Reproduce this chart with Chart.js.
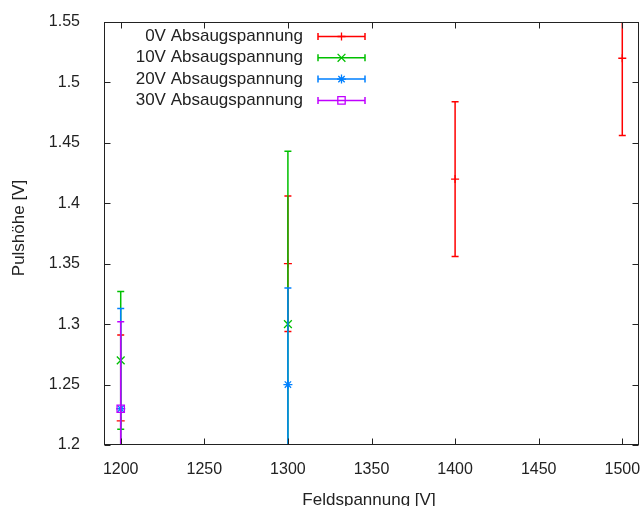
<!DOCTYPE html>
<html>
<head>
<meta charset="utf-8">
<script src="https://cdn.jsdelivr.net/npm/chart.js@4.4.0/dist/chart.umd.min.js"></script>
<style>
  html, body { margin:0; padding:0; background:#fff }
</style>
</head>
<body>
<canvas id="c" width="641" height="506"></canvas>
<script>
// Messpunkte: Feldspannung [V], Pulshöhe [V], Fehler [V]
const feld0  = [1200, 1300, 1400, 1500]
const puls0  = [1.22, 1.35, 1.42, 1.52]
const err0   = [0.071, 0.056, 0.064, 0.064]

const feld10 = [1200, 1300]
const puls10 = [1.27, 1.30]
const err10  = [0.057, 0.143]

const feld20 = [1200, 1300]
const puls20 = [1.23, 1.25]
const err20  = [0.083, 0.08]

const feld30 = [1200]
const puls30 = [1.23]
const err30  = [0.072]

const xTicks = [1200, 1250, 1300, 1350, 1400, 1450, 1500]
const yTicks = [1.2, 1.25, 1.3, 1.35, 1.4, 1.45, 1.5, 1.55]
const names  = ['0V Absaugspannung', '10V Absaugspannung', '20V Absaugspannung', '30V Absaugspannung']

const FONT = '"Liberation Sans", Arial, sans-serif'
const TXT = '#222'

function pts(xs, ys, es){ return xs.map((x,i)=>({ x, y: ys[i], err: es[i] })) }

function series(i, data, color, style, radius, order){
  return { label: names[i], data, borderColor: color, backgroundColor: 'rgba(0,0,0,0)',
    pointStyle: style, pointRadius: radius, pointBorderWidth: 1.3, showLine: false, order }
}

// vertical error bars with caps, drawn right before each dataset's markers
const errorBars = {
  id: 'errorBars',
  beforeDatasetDraw(chart, args){
    const ds = chart.data.datasets[args.index]
    const { ctx, chartArea: a, scales: { x, y } } = chart
    ctx.save()
    ctx.beginPath(); ctx.rect(a.left, a.top, a.right - a.left, a.bottom - a.top); ctx.clip()
    ctx.strokeStyle = ds.borderColor; ctx.lineWidth = 1.5
    ds.data.forEach(p => {
      const px = x.getPixelForValue(p.x)
      const hi = y.getPixelForValue(p.y + p.err), lo = y.getPixelForValue(p.y - p.err)
      ctx.beginPath()
      ctx.moveTo(px, hi); ctx.lineTo(px, lo)
      ctx.moveTo(px - 3.5, hi); ctx.lineTo(px + 3.5, hi)
      ctx.moveTo(px - 3.5, lo); ctx.lineTo(px + 3.5, lo)
      ctx.stroke()
    })
    ctx.restore()
  }
}

// gnuplot-like frame, inward ticks, key and axis titles
const frame = {
  id: 'frame',
  afterDraw(chart){
    const { ctx, chartArea: a, scales: { x, y } } = chart
    ctx.save()
    ctx.strokeStyle = TXT; ctx.lineWidth = 1
    const L = Math.round(a.left) + 0.5, R = Math.round(a.right) - 0.5
    const T = Math.round(a.top) + 0.5, B = Math.round(a.bottom) - 0.5
    ctx.strokeRect(L, T, R - L, B - T)
    ctx.beginPath()
    xTicks.forEach(v => {
      const px = Math.round(x.getPixelForValue(v)) + 0.5
      ctx.moveTo(px, B); ctx.lineTo(px, B - 6)
      ctx.moveTo(px, T); ctx.lineTo(px, T + 6)
    })
    yTicks.forEach(v => {
      const py = Math.round(y.getPixelForValue(v)) + 0.5
      ctx.moveTo(L, py); ctx.lineTo(L + 6, py)
      ctx.moveTo(R, py); ctx.lineTo(R - 6, py)
    })
    ctx.stroke()

    // key
    ctx.font = '17px ' + FONT
    ctx.textAlign = 'right'; ctx.textBaseline = 'middle'
    chart.data.datasets.forEach((ds, i) => {
      const ky = 36.5 + i * 21.3
      ctx.fillStyle = TXT
      ctx.fillText(ds.label, 303, ky)
      ctx.strokeStyle = ds.borderColor; ctx.lineWidth = 1.5
      ctx.beginPath()
      ctx.moveTo(318, ky); ctx.lineTo(365, ky)
      ctx.moveTo(318, ky - 3.5); ctx.lineTo(318, ky + 3.5)
      ctx.moveTo(365, ky - 3.5); ctx.lineTo(365, ky + 3.5)
      ctx.stroke()
      ctx.lineWidth = ds.pointBorderWidth
      ctx.fillStyle = 'rgba(0,0,0,0)'
      Chart.helpers.drawPoint(ctx, { pointStyle: ds.pointStyle, radius: ds.pointRadius, rotation: 0, borderWidth: ds.pointBorderWidth }, 341.5, ky)
    })

    // axis titles
    ctx.fillStyle = TXT
    ctx.font = '17px ' + FONT
    ctx.textAlign = 'center'; ctx.textBaseline = 'alphabetic'
    ctx.fillText('Feldspannung [V]', 369, 505)
    ctx.translate(24, 228)
    ctx.rotate(-Math.PI / 2)
    ctx.fillText('Pulshöhe [V]', 0, 0)
    ctx.restore()
  }
}

new Chart(document.getElementById('c'), {
  type: 'scatter',
  data: {
    datasets: [
      series(0, pts(feld0, puls0, err0),   '#ff0000', 'cross',    4,   4),
      series(1, pts(feld10, puls10, err10), '#00c000', 'crossRot', 5.5, 3),
      series(2, pts(feld20, puls20, err20), '#0080ff', 'star',     4.5, 2),
      series(3, pts(feld30, puls30, err30), '#c000ff', 'rect',     5.2, 1)
    ]
  },
  options: {
    responsive: false,
    animation: false,
    devicePixelRatio: 1,
    layout: { autoPadding: false, padding: { top: 22, right: 2, left: 0, bottom: 0 } },
    plugins: { legend: { display: false }, tooltip: { enabled: false } },
    scales: {
      x: {
        type: 'linear', min: 1190, max: 1510,
        afterBuildTicks: s => { s.ticks = xTicks.map(v => ({ value: v })) },
        afterFit: s => { s.height = 61; s.paddingLeft = 0; s.paddingRight = 0 },
        grid: { display: false }, border: { display: false },
        ticks: { color: TXT, font: { family: FONT, size: 16 }, padding: 7, maxRotation: 0, autoSkip: false,
          callback: v => String(v) }
      },
      y: {
        type: 'linear', min: 1.2, max: 1.55,
        afterBuildTicks: s => { s.ticks = yTicks.map(v => ({ value: v })) },
        afterFit: s => { s.width = 104; s.paddingTop = 0; s.paddingBottom = 0 },
        grid: { display: false }, border: { display: false },
        ticks: { color: TXT, font: { family: FONT, size: 16 }, padding: 16, autoSkip: false,
          callback: v => String(+v.toFixed(2)) }
      }
    }
  },
  plugins: [errorBars, frame]
})
</script>
</body>
</html>
